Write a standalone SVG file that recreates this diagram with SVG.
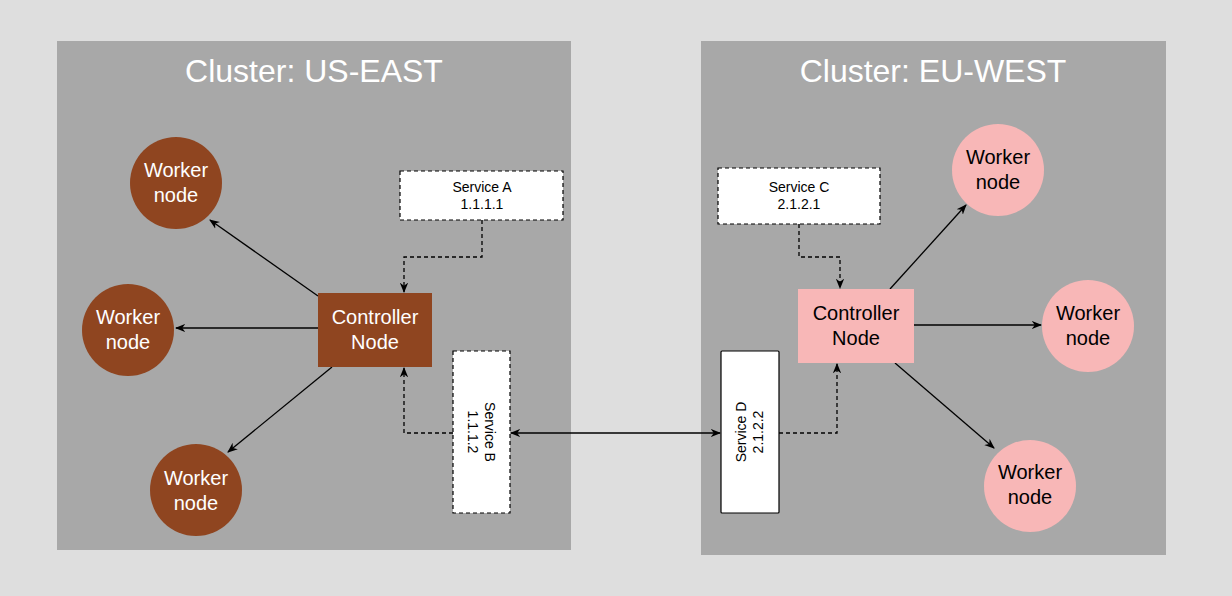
<svg xmlns="http://www.w3.org/2000/svg" width="1232" height="596" viewBox="0 0 1232 596">
<defs>
<marker id="a" viewBox="0 0 10 10" refX="9" refY="5" markerWidth="8" markerHeight="8" orient="auto-start-reverse"><path d="M0,1 L10,5 L0,9 L3,5 Z" fill="#000"/></marker>
</defs>
<style>
text{font-family:"Liberation Sans",Arial,sans-serif;text-anchor:middle}
.t{fill:#fff;font-size:32px}
.w{fill:#fff;font-size:20px}
.p{fill:#000;font-size:20px}
.s{fill:#000;font-size:14px}
.b{fill:#8f4520}
.k{fill:#f8b7b7}
.c{stroke:#000;stroke-width:1.3;fill:none;marker-end:url(#a)}
.d{stroke-dasharray:4 3}
.svc{fill:#fff;stroke:#000;stroke-width:1.2}
</style>
<rect width="1232" height="596" fill="#dedede"/>
<g id="us-east"><rect x="57" y="41" width="514" height="509" fill="#a8a8a8"/><text class="t" x="314" y="82">Cluster: US-EAST</text></g>
<g id="eu-west"><rect x="701" y="41" width="465" height="514" fill="#a8a8a8"/><text class="t" x="933" y="82">Cluster: EU-WEST</text></g>
<g id="connectors">
<path class="c" d="M318,296 L210,220"/>
<path class="c" d="M318,328 L176,328"/>
<path class="c" d="M332,367 L228,452"/>
<path class="c" d="M890,289 L966,205"/>
<path class="c" d="M914,325 L1041,325"/>
<path class="c" d="M895,363 L994,448"/>
<path class="c d" d="M482,220 V257 H404 V292"/>
<path class="c d" d="M453,433 H404 V368"/>
<path class="c d" d="M799,224 V257 H840 V288"/>
<path class="c d" d="M779,433 H837 V364"/>
<path class="c" d="M511,433 H720" marker-start="url(#a)"/>
</g>
<g id="us-w1"><circle class="b" cx="176" cy="183" r="46"/><text class="w" x="176" y="177">Worker</text><text class="w" x="176" y="202">node</text></g>
<g id="us-w2"><circle class="b" cx="128" cy="330" r="46"/><text class="w" x="128" y="324">Worker</text><text class="w" x="128" y="349">node</text></g>
<g id="us-w3"><circle class="b" cx="196" cy="490" r="46"/><text class="w" x="196" y="485">Worker</text><text class="w" x="196" y="510">node</text></g>
<g id="us-ctrl"><rect class="b" x="318" y="293" width="114" height="74"/><text class="w" x="375" y="324">Controller</text><text class="w" x="375" y="349">Node</text></g>
<g id="svc-a"><rect class="svc d" x="400" y="171" width="163" height="49"/><text class="s" x="482" y="192">Service A</text><text class="s" x="482" y="209">1.1.1.1</text></g>
<g id="svc-b"><rect class="svc d" x="453" y="351" width="57" height="162"/><text class="s" transform="translate(481,432) rotate(90)"><tspan x="0" y="-4">Service B</tspan><tspan x="0" y="13">1.1.1.2</tspan></text></g>
<g id="eu-ctrl"><rect class="k" x="798" y="289" width="116" height="74"/><text class="p" x="856" y="320">Controller</text><text class="p" x="856" y="345">Node</text></g>
<g id="svc-c"><rect class="svc d" x="718" y="168" width="162" height="56"/><text class="s" x="799" y="192">Service C</text><text class="s" x="799" y="209">2.1.2.1</text></g>
<g id="svc-d"><rect class="svc" x="721" y="351" width="58" height="162" rx="1"/><text class="s" transform="translate(750,432) rotate(-90)"><tspan x="0" y="-4">Service D</tspan><tspan x="0" y="13">2.1.2.2</tspan></text></g>
<g id="eu-w1"><circle class="k" cx="998" cy="170" r="46"/><text class="p" x="998" y="164">Worker</text><text class="p" x="998" y="189">node</text></g>
<g id="eu-w2"><circle class="k" cx="1088" cy="326" r="46"/><text class="p" x="1088" y="320">Worker</text><text class="p" x="1088" y="345">node</text></g>
<g id="eu-w3"><circle class="k" cx="1030" cy="486" r="46"/><text class="p" x="1030" y="479">Worker</text><text class="p" x="1030" y="504">node</text></g>
</svg>
